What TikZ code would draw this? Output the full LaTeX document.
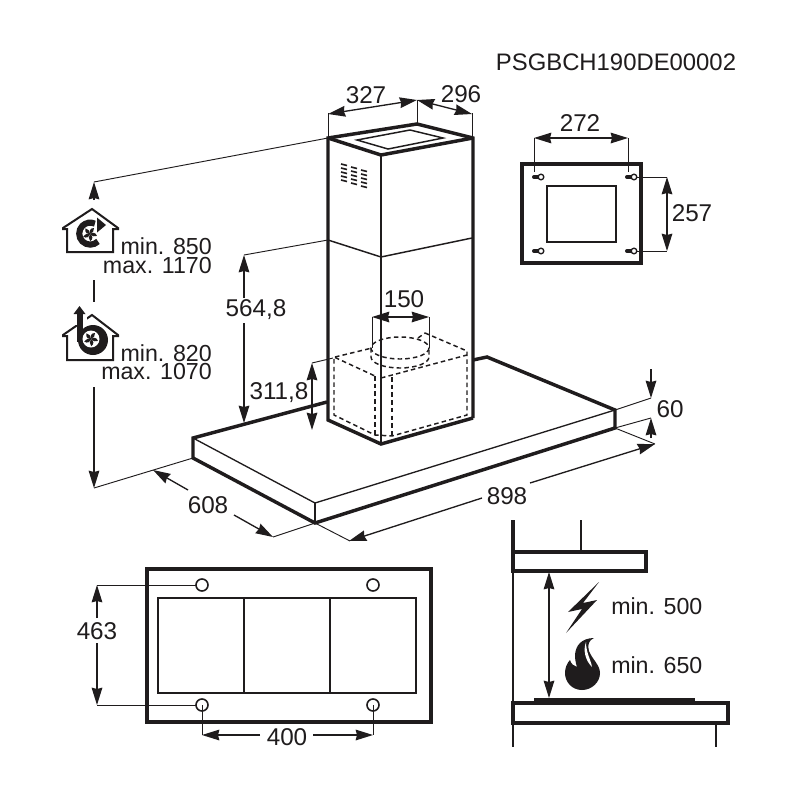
\documentclass[tikz,border=0pt]{standalone}
\usepackage{fontspec}
\setmainfont{Liberation Sans}
\usetikzlibrary{arrows.meta}
\definecolor{ink}{HTML}{1F1C1D}
\tikzset{
  heavy/.style={line width=2.6pt,line join=miter,draw=ink},
  medium/.style={line width=1.1pt,draw=ink},
  fine/.style={line width=0.7pt,draw=ink},
  dashline/.style={line width=1.1pt,draw=ink,dash pattern=on 3.4pt off 2.4pt},
  dimarrow/.style={line width=1pt,draw=ink,{Stealth[length=13pt,width=8pt,inset=1pt]}-{Stealth[length=13pt,width=8pt,inset=1pt]}},
  onearrow/.style={line width=1pt,draw=ink,-{Stealth[length=13pt,width=8pt,inset=1pt]}},
  lab/.style={font=\fontsize{18.2pt}{20pt}\selectfont,text=ink,inner sep=0pt},
  labs/.style={font=\fontsize{17.4pt}{20pt}\selectfont,text=ink,inner sep=0pt},
  labr/.style={labs,anchor=east},
  labl/.style={labs,anchor=west},
}
\begin{document}
\begin{tikzpicture}[x=0.75pt,y=-0.75pt]
\useasboundingbox (0,0) rectangle (800,800);
\fill[white] (0,0) rectangle (800,800);

% code
\node[font=\fontsize{17.9pt}{20pt}\selectfont,text=ink,inner sep=0pt] (code) at (616,62) {PSGBCH190DE00002};

% hood body
\draw[fine,line width=1pt] (193,438) -- (315,503) -- (615,410);
\draw[fine,line width=1pt] (315,503) -- (315,523);
\draw[heavy] (327,402) -- (193,438) -- (193,458) -- (315,523) -- (615,428) -- (615,410) -- (487,357) -- (473,360);

% chimney
\draw[medium] (328,240) -- (381,257) -- (472,238);
\draw[medium] (381,155) -- (381,444);
\draw[heavy] (473,418) -- (473,138) -- (417,124) -- (328,138) -- (328,420) -- (381,444) -- (473,418);
\draw[heavy] (328,138) -- (381,155) -- (473,138);
\draw[medium] (357,140) -- (410,130) -- (443,138) -- (388,149) -- cycle;
\foreach \cx/\cy in {341/164,351/167,361/170}
  \foreach \k in {0,1,2,3,4}
    \draw[ink,line width=1.2pt] (\cx,\cy+\k*4) -- (\cx+6,\cy+\k*4+1.5);

% dashed internal box and duct
\draw[dashline] (335,357) -- (372,348);
\draw[dashline] (425,333) -- (467,351) -- (467,415) -- (392,436) -- (375,435) -- (334,415) -- (334,357) -- (375,376);
\draw[dashline] (381,378) -- (467,355);
\draw[dashline] (375,376) -- (375,435);
\draw[dashline] (392,377) -- (392,436);
\draw[dashline] (400,348) ellipse [x radius=29,y radius=11];
\draw[dashline] (371,348) -- (371,357) arc[start angle=180,end angle=0,x radius=29,y radius=11] -- (429,348);
\draw[dashline] (418,338) -- (425,333);

% chimney dimensions
\draw[fine] (328,138) -- (328,113);
\draw[fine] (417,123) -- (417,100);
\draw[fine] (472,138) -- (472,113);
\draw[dimarrow] (328,114) -- (417,100);
\draw[dimarrow] (417,100) -- (472,114);
\node[lab] (d327) at (366,95) {327};
\node[lab] (d296) at (461,94) {296};

% height leaders
\draw[fine] (328,138) -- (94,182);
\draw[onearrow] (94,200) -- (94,182);
\draw[medium] (94,280) -- (94,302);
\draw[onearrow] (94,387) -- (94,488);
\draw[fine] (94,488) -- (193,458);

\draw[fine] (328,240) -- (244,255);
\draw[onearrow] (244,298) -- (244,255);
\draw[onearrow] (244,323) -- (244,423);
\node[lab] (d564) at (256,310) {564,8};

\draw[fine] (333,358) -- (312,363);
\draw[dimarrow] (312,363) -- (312,430);
\node[lab] (d311) at (279,393) {311,8};

% duct dimension
\draw[fine] (372,348) -- (372,317);
\draw[fine] (429,348) -- (429,317);
\draw[dimarrow] (372,317) -- (429,317);
\node[lab] (d150) at (404,299) {150};

% width, depth, height dimensions
\draw[onearrow] (188,490) -- (153,470);
\draw[onearrow] (234,515) -- (273,537);
\draw[fine] (315,523) -- (273,537);
\node[lab] (d608) at (208,505) {608};

\draw[fine] (315,523) -- (350,541);
\draw[onearrow] (482,498) -- (349,541);
\draw[onearrow] (530,483) -- (655,444);
\draw[fine] (615,428) -- (655,444);
\node[lab] (d898) at (507,496) {898};

\draw[fine] (615,410) -- (651,398);
\draw[onearrow] (651,369) -- (651,398);
\draw[fine] (615,428) -- (651,418);
\draw[onearrow] (651,438) -- (651,418);
\node[lab] (d60) at (670,409) {60};

% wall plate
\draw[heavy] (522,164) rectangle (641,263);
\draw[medium,line width=1.2pt] (547,186) rectangle (616,242);
\foreach \kx/\ky in {541/177,634/177,541/251,634/251} {
  \draw[ink,line width=3pt,line cap=round] (\kx-7,\ky) -- (\kx-1,\ky);
  \draw[ink,line width=1pt,fill=white] (\kx,\ky) circle[radius=2.8];
}
\draw[fine] (534,172) -- (534,138);
\draw[fine] (628,172) -- (628,138);
\draw[dimarrow] (534,138) -- (628,138);
\node[lab] (d272) at (580,123) {272};
\draw[fine] (637,177) -- (667,177);
\draw[fine] (637,251) -- (667,251);
\draw[dimarrow] (667,177) -- (667,251);
\node[lab] (d257) at (692,213) {257};

% underside view
\draw[heavy] (147,569) rectangle (431,722);
\draw[medium,line width=1.2pt] (158,598) rectangle (416,693);
\draw[medium,line width=1.2pt] (244,598) -- (244,693);
\draw[medium,line width=1.2pt] (330,598) -- (330,693);
\foreach \hx/\hy in {202/585,373/585,202/705,373/705}
  \draw[medium,line width=1.2pt] (\hx,\hy) circle[radius=6];
\draw[fine] (97,585) -- (196,585);
\draw[fine] (97,705) -- (196,705);
\draw[onearrow] (97,618) -- (97,585);
\draw[onearrow] (97,643) -- (97,705);
\node[lab] (d463) at (97,631) {463};
\draw[fine] (202,705) -- (202,735);
\draw[fine] (373,705) -- (373,735);
\draw[onearrow] (260,735) -- (202,735);
\draw[onearrow] (313,735) -- (373,735);
\node[lab] (d400) at (287,737) {400};

% side view
\draw[heavy] (513,520) -- (513,552);
\draw[medium,line width=1.6pt] (581,520) -- (581,552);
\draw[heavy] (513,552) rectangle (646,571);
\draw[medium] (513,571) -- (513,703);
\draw[dimarrow] (549,572) -- (549,698);
\fill[ink] (534,698) rectangle (695,703);
\draw[heavy] (513,703) rectangle (728,723);
\draw[medium] (513,723) -- (513,747);
\draw[medium] (716,723) -- (716,747);
\fill[ink] (599,582) -- (568,612) -- (582,609) -- (566,633) -- (597,600) -- (583,603) -- cycle;
\fill[ink] (582,690) .. controls (572,690) and (565,682) .. (565,673)
  .. controls (565,668) and (567,663) .. (570,660)
  .. controls (571,664) and (574,666) .. (577,667)
  .. controls (574,658) and (574,649) .. (580,643)
  .. controls (583,640) and (588,638) .. (594,638)
  .. controls (589,640) and (587,645) .. (589,651)
  .. controls (592,659) and (600,665) .. (600,673)
  .. controls (600,682) and (592,690) .. (582,690) -- cycle;
\fill[white] (586,642) .. controls (583,650) and (585,660) .. (592,667)
  .. controls (591,660) and (586,653) .. (586,642) -- cycle;
\node[labl] (tmin500) at (611,606) {min. 500};
\node[labl] (tmin650) at (611,665) {min. 650};

% recirculation house
\draw[ink,line width=1.5pt,line join=miter]
  (67,229) -- (63,229) -- (63,228) -- (92,209) -- (118,228) -- (118,229) -- (113,229) -- (113,252) -- (67,252) -- cycle;
\draw[ink,line width=4.6pt] (98,241.4) arc[start angle=45,end angle=295,radius=11];
\fill[ink] (106,225) -- (97,217.5) -- (97,232.5) -- cycle;
\foreach \a in {0,72,144,216,288}
  \fill[ink,rotate around={\a:(90,234)}] (90,234) .. controls (89,231) and (90,228) .. (94,228) .. controls (94,231) and (93,233) .. (90,234) -- cycle;

% extraction house
\draw[ink,line width=1.5pt,line join=miter]
  (67,336) -- (63,336) -- (63,335) -- (92,315) -- (118,335) -- (118,336) -- (113,336) -- (113,360) -- (67,360) -- cycle;
\fill[white] (73,310) rectangle (87,325);
\draw[ink,line width=4pt] (80,312) -- (80,342);
\fill[ink] (79.5,306) -- (73.5,314) -- (85.5,314) -- cycle;
\fill[ink] (93,340) circle[radius=15];
\fill[white] (91,339) circle[radius=8.5];
\foreach \a in {0,72,144,216,288}
  \fill[ink,rotate around={\a:(91,339)}] (91,339) .. controls (90,336) and (91,333) .. (95,333) .. controls (95,336) and (94,338) .. (91,339) -- cycle;

\node[labr] (tmin850) at (212,246) {min. 850};
\node[labr] (tmax1170) at (212,266) {max. 1170};
\node[labr] (tmin820) at (212,353) {min. 820};
\node[labr] (tmax1070) at (212,372) {max. 1070};
\end{tikzpicture}
\end{document}
